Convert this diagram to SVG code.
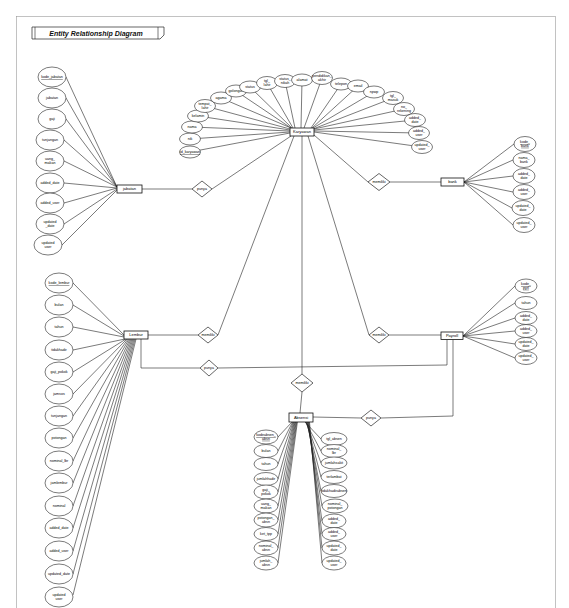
<svg xmlns="http://www.w3.org/2000/svg" width="569" height="608" viewBox="0 0 569 608" font-family="Liberation Sans, Arial, sans-serif">
<style>
.l{stroke:#222;stroke-width:0.6;fill:none}
.a{fill:#fff;stroke:#222;stroke-width:0.6}
.e{fill:#fff;stroke:#111;stroke-width:0.8}
.r{fill:#fff;stroke:#222;stroke-width:0.7}
.t{font-family:'Liberation Sans',Arial,sans-serif;font-size:3.6px;text-anchor:middle;fill:#000}
.tb{font-family:'Liberation Sans',Arial,sans-serif;font-size:4px;text-anchor:middle;fill:#000}
.u{text-decoration:underline}
</style>
<rect x="0" y="0" width="569" height="608" fill="#fff"/>
<rect x="16.5" y="16.5" width="539" height="600" fill="none" stroke="#999" stroke-width="0.6"/>
<g id="title">
<polygon points="32,27 164,27 164,35 160,39 32,39" fill="#fff" stroke="#222" stroke-width="0.7"/>
<line x1="35" y1="27" x2="35" y2="39" stroke="#222" stroke-width="0.6"/>
<line x1="158" y1="27" x2="158" y2="39" stroke="#222" stroke-width="0.6"/>
<text x="96" y="35.5" font-family="Liberation Sans,Arial,sans-serif" font-size="7" font-weight="bold" font-style="italic" text-anchor="middle" fill="#111">Entity Relationship Diagram</text>
</g>
<g id="connectors">
<line class="l" x1="290" y1="133" x2="190" y2="152"/>
<line class="l" x1="290" y1="132" x2="190" y2="139"/>
<line class="l" x1="290" y1="131" x2="192" y2="127"/>
<line class="l" x1="290" y1="130" x2="198" y2="116"/>
<line class="l" x1="290" y1="129" x2="205" y2="106"/>
<line class="l" x1="291" y1="128" x2="221" y2="98"/>
<line class="l" x1="291" y1="128" x2="236" y2="91"/>
<line class="l" x1="292" y1="128" x2="250" y2="87"/>
<line class="l" x1="293" y1="128" x2="267" y2="83"/>
<line class="l" x1="295" y1="128" x2="285" y2="81"/>
<line class="l" x1="301" y1="128" x2="302" y2="80"/>
<line class="l" x1="304" y1="128" x2="322" y2="78"/>
<line class="l" x1="311" y1="128" x2="341" y2="84"/>
<line class="l" x1="312" y1="128" x2="358" y2="86"/>
<line class="l" x1="313" y1="128" x2="374" y2="92"/>
<line class="l" x1="313" y1="129" x2="393" y2="98"/>
<line class="l" x1="314" y1="129" x2="404" y2="109"/>
<line class="l" x1="314" y1="130" x2="415" y2="120"/>
<line class="l" x1="314" y1="131" x2="419" y2="133"/>
<line class="l" x1="314" y1="132" x2="422" y2="147"/>
<line class="l" x1="117" y1="187" x2="66" y2="77"/>
<line class="l" x1="117" y1="187" x2="66" y2="98"/>
<line class="l" x1="117" y1="187" x2="66" y2="119"/>
<line class="l" x1="117" y1="187" x2="64" y2="140"/>
<line class="l" x1="117" y1="187" x2="64" y2="161"/>
<line class="l" x1="117" y1="188" x2="64" y2="183"/>
<line class="l" x1="117" y1="188" x2="64" y2="203"/>
<line class="l" x1="117" y1="189" x2="64" y2="224"/>
<line class="l" x1="117" y1="190" x2="62" y2="245"/>
<line class="l" x1="464" y1="182" x2="514" y2="144"/>
<line class="l" x1="464" y1="182" x2="513" y2="160"/>
<line class="l" x1="464" y1="182" x2="513" y2="176"/>
<line class="l" x1="464" y1="182" x2="513" y2="192"/>
<line class="l" x1="464" y1="182" x2="512" y2="208"/>
<line class="l" x1="464" y1="182" x2="513" y2="225"/>
<line class="l" x1="124" y1="335" x2="73" y2="283"/>
<line class="l" x1="124" y1="336" x2="73" y2="305"/>
<line class="l" x1="124" y1="337" x2="73" y2="327"/>
<line class="l" x1="125" y1="339" x2="73" y2="350"/>
<line class="l" x1="126" y1="339" x2="73" y2="372"/>
<line class="l" x1="127" y1="339" x2="73" y2="394"/>
<line class="l" x1="128" y1="339" x2="73" y2="416"/>
<line class="l" x1="129" y1="339" x2="73" y2="438"/>
<line class="l" x1="130" y1="339" x2="73" y2="461"/>
<line class="l" x1="131" y1="339" x2="73" y2="483"/>
<line class="l" x1="132" y1="339" x2="73" y2="506"/>
<line class="l" x1="133" y1="339" x2="73" y2="528"/>
<line class="l" x1="134" y1="339" x2="73" y2="551"/>
<line class="l" x1="135" y1="339" x2="73" y2="574"/>
<line class="l" x1="136" y1="339" x2="73" y2="595"/>
<line class="l" x1="463" y1="336" x2="515" y2="286"/>
<line class="l" x1="463" y1="336" x2="515" y2="303"/>
<line class="l" x1="463" y1="336" x2="515" y2="318"/>
<line class="l" x1="463" y1="336" x2="515" y2="331"/>
<line class="l" x1="463" y1="336" x2="515" y2="344"/>
<line class="l" x1="463" y1="336" x2="515" y2="358"/>
<line class="l" x1="292" y1="422" x2="278" y2="437"/>
<line class="l" x1="292.6" y1="422" x2="278" y2="451"/>
<line class="l" x1="293.2" y1="422" x2="278" y2="464"/>
<line class="l" x1="293.8" y1="422" x2="278" y2="479"/>
<line class="l" x1="294.4" y1="422" x2="278" y2="492"/>
<line class="l" x1="295" y1="422" x2="278" y2="506"/>
<line class="l" x1="295.6" y1="422" x2="278" y2="520"/>
<line class="l" x1="296.2" y1="422" x2="278" y2="534"/>
<line class="l" x1="296.8" y1="422" x2="278" y2="548"/>
<line class="l" x1="297.4" y1="422" x2="278" y2="563"/>
<line class="l" x1="305" y1="422" x2="321" y2="439"/>
<line class="l" x1="305.5" y1="422" x2="321" y2="451"/>
<line class="l" x1="306" y1="422" x2="321" y2="463"/>
<line class="l" x1="306.5" y1="422" x2="321" y2="477"/>
<line class="l" x1="307" y1="422" x2="321" y2="491"/>
<line class="l" x1="307.5" y1="422" x2="322" y2="506"/>
<line class="l" x1="308" y1="422" x2="322" y2="521"/>
<line class="l" x1="308.5" y1="422" x2="322" y2="534"/>
<line class="l" x1="309" y1="422" x2="322" y2="548"/>
<line class="l" x1="309.5" y1="422" x2="322" y2="563"/>
<line class="l" x1="142" y1="189" x2="192" y2="189"/>
<line class="l" x1="212" y1="189" x2="291" y2="136"/>
<line class="l" x1="314" y1="135" x2="368" y2="182"/>
<line class="l" x1="390" y1="182" x2="441" y2="182"/>
<line class="l" x1="148" y1="335" x2="198" y2="335"/>
<line class="l" x1="218" y1="335" x2="294" y2="136"/>
<line class="l" x1="308" y1="136" x2="369" y2="335"/>
<line class="l" x1="389" y1="335" x2="441" y2="335"/>
<line class="l" x1="302" y1="136" x2="302" y2="374"/>
<line class="l" x1="302" y1="392" x2="300" y2="413"/>
<polyline class="l" points="141,339 141,368 200,368"/>
<polyline class="l" points="218,368 447,365 447,339.5"/>
<line class="l" x1="313" y1="417" x2="361" y2="418"/>
<polyline class="l" points="381,418 453,416 453,339.5"/>
</g>
<g id="karyawan">
<rect class="e" x="290" y="128" width="24" height="8"/>
<text class="tb" x="302" y="133.4">Karyawan</text>
</g>
<g id="karyawan-attributes">
<ellipse class="a" cx="190" cy="152" rx="10.5" ry="6"/><text class="t u" x="190" y="153.2">id_karyawan</text>
<ellipse class="a" cx="190" cy="139" rx="10.5" ry="6"/><text class="t" x="190" y="140.2">nik</text>
<ellipse class="a" cx="192" cy="127" rx="10.5" ry="6"/><text class="t" x="192" y="128.2">nama</text>
<ellipse class="a" cx="198" cy="116" rx="10.5" ry="6"/><text class="t" x="198" y="117.2">kelamin</text>
<ellipse class="a" cx="205" cy="106" rx="10.5" ry="6.5"/><text class="t" x="205" y="105"><tspan x="205">tempat_</tspan><tspan x="205" dy="3.8">lahir</tspan></text>
<ellipse class="a" cx="221" cy="98" rx="10.5" ry="6"/><text class="t" x="221" y="99.2">agama</text>
<ellipse class="a" cx="236" cy="91" rx="10.5" ry="6"/><text class="t" x="236" y="92.2">golongan</text>
<ellipse class="a" cx="250" cy="87" rx="10.5" ry="6"/><text class="t" x="250" y="88.2">status</text>
<ellipse class="a" cx="267" cy="83" rx="10.5" ry="6.5"/><text class="t" x="267" y="82"><tspan x="267">tgl_</tspan><tspan x="267" dy="3.8">lahir</tspan></text>
<ellipse class="a" cx="285" cy="81" rx="10.5" ry="6.5"/><text class="t" x="285" y="80"><tspan x="285">status_</tspan><tspan x="285" dy="3.8">nikah</tspan></text>
<ellipse class="a" cx="302" cy="80" rx="10.5" ry="6"/><text class="t" x="302" y="81.2">alamat</text>
<ellipse class="a" cx="322" cy="78" rx="10.5" ry="6.5"/><text class="t" x="322" y="77"><tspan x="322">pendidikan_</tspan><tspan x="322" dy="3.8">akhir</tspan></text>
<ellipse class="a" cx="341" cy="84" rx="10.5" ry="6"/><text class="t" x="341" y="85.2">telepon</text>
<ellipse class="a" cx="358" cy="86" rx="10.5" ry="6"/><text class="t" x="358" y="87.2">email</text>
<ellipse class="a" cx="374" cy="92" rx="10.5" ry="6"/><text class="t" x="374" y="93.2">npwp</text>
<ellipse class="a" cx="393" cy="98" rx="10.5" ry="6.5"/><text class="t" x="393" y="97"><tspan x="393">tgl_</tspan><tspan x="393" dy="3.8">masuk</tspan></text>
<ellipse class="a" cx="404" cy="109" rx="10.5" ry="6.5"/><text class="t" x="404" y="108"><tspan x="404">no_</tspan><tspan x="404" dy="3.8">rekening</tspan></text>
<ellipse class="a" cx="415" cy="120" rx="10.5" ry="6.5"/><text class="t" x="415" y="119"><tspan x="415">added_</tspan><tspan x="415" dy="3.8">date</tspan></text>
<ellipse class="a" cx="419" cy="133" rx="10.5" ry="6.5"/><text class="t" x="419" y="132"><tspan x="419">added_</tspan><tspan x="419" dy="3.8">user</tspan></text>
<ellipse class="a" cx="422" cy="147" rx="10.5" ry="6.5"/><text class="t" x="422" y="146"><tspan x="422">updated_</tspan><tspan x="422" dy="3.8">user</tspan></text>
</g>
<g id="jabatan">
<rect class="e" x="117" y="185" width="25" height="8"/>
<text class="tb" x="129.5" y="190.4">jabatan</text>
</g>
<g id="jabatan-attributes">
<ellipse class="a" cx="52" cy="77" rx="14" ry="10"/><text class="t u" x="52" y="78.3">kode_jabatan</text>
<ellipse class="a" cx="52" cy="98" rx="14" ry="10"/><text class="t" x="52" y="99.3">jabatan</text>
<ellipse class="a" cx="52" cy="119" rx="14" ry="10"/><text class="t" x="52" y="120.3">gaji</text>
<ellipse class="a" cx="50" cy="140" rx="14" ry="10"/><text class="t" x="50" y="141.3">tunjangan</text>
<ellipse class="a" cx="50" cy="161" rx="14" ry="10"/><text class="t" x="50" y="160"><tspan x="50">uang_</tspan><tspan x="50" dy="4">makan</tspan></text>
<ellipse class="a" cx="50" cy="183" rx="14" ry="10"/><text class="t" x="50" y="184.3">added_date</text>
<ellipse class="a" cx="50" cy="203" rx="14" ry="10"/><text class="t" x="50" y="204.3">added_user</text>
<ellipse class="a" cx="50" cy="224" rx="14" ry="10"/><text class="t" x="50" y="223"><tspan x="50">updated</tspan><tspan x="50" dy="4">_date</tspan></text>
<ellipse class="a" cx="48" cy="245" rx="14" ry="10"/><text class="t" x="48" y="244"><tspan x="48">updated</tspan><tspan x="48" dy="4">user</tspan></text>
</g>
<g id="bank">
<rect class="e" x="441" y="178" width="23" height="8"/>
<text class="tb" x="452.5" y="183.4">bank</text>
</g>
<g id="bank-attributes">
<ellipse class="a" cx="525" cy="144" rx="11" ry="7.5"/><text class="t u" x="525" y="143"><tspan x="525">kode_</tspan><tspan x="525" dy="3.8">bank</tspan></text>
<ellipse class="a" cx="524" cy="160" rx="11" ry="7.5"/><text class="t" x="524" y="159"><tspan x="524">nama_</tspan><tspan x="524" dy="3.8">bank</tspan></text>
<ellipse class="a" cx="524" cy="176" rx="11" ry="7.5"/><text class="t" x="524" y="175"><tspan x="524">added_</tspan><tspan x="524" dy="3.8">date</tspan></text>
<ellipse class="a" cx="524" cy="192" rx="11" ry="7.5"/><text class="t" x="524" y="191"><tspan x="524">added_</tspan><tspan x="524" dy="3.8">user</tspan></text>
<ellipse class="a" cx="523" cy="208" rx="11" ry="7.5"/><text class="t" x="523" y="207"><tspan x="523">updated_</tspan><tspan x="523" dy="3.8">date</tspan></text>
<ellipse class="a" cx="524" cy="225" rx="11" ry="7.5"/><text class="t" x="524" y="224"><tspan x="524">updated_</tspan><tspan x="524" dy="3.8">user</tspan></text>
</g>
<g id="lembur">
<rect class="e" x="124" y="331" width="24" height="8"/>
<text class="tb" x="136" y="336.4">Lembur</text>
</g>
<g id="lembur-attributes">
<ellipse class="a" cx="59" cy="283" rx="14" ry="10"/><text class="t u" x="59" y="284.3">kode_lembur</text>
<ellipse class="a" cx="59" cy="305" rx="14" ry="10"/><text class="t" x="59" y="306.3">bulan</text>
<ellipse class="a" cx="59" cy="327" rx="14" ry="10"/><text class="t" x="59" y="328.3">tahun</text>
<ellipse class="a" cx="59" cy="350" rx="14" ry="10"/><text class="t" x="59" y="351.3">tidakhadir</text>
<ellipse class="a" cx="59" cy="372" rx="14" ry="10"/><text class="t" x="59" y="373.3">gaji_pokok</text>
<ellipse class="a" cx="59" cy="394" rx="14" ry="10"/><text class="t" x="59" y="395.3">jamsos</text>
<ellipse class="a" cx="59" cy="416" rx="14" ry="10"/><text class="t" x="59" y="417.3">tunjangan</text>
<ellipse class="a" cx="59" cy="438" rx="14" ry="10"/><text class="t" x="59" y="439.3">potongan</text>
<ellipse class="a" cx="59" cy="461" rx="14" ry="10"/><text class="t" x="59" y="462.3">nominal_lbr</text>
<ellipse class="a" cx="59" cy="483" rx="14" ry="10"/><text class="t" x="59" y="484.3">jamlembur</text>
<ellipse class="a" cx="59" cy="506" rx="14" ry="10"/><text class="t" x="59" y="507.3">nominal</text>
<ellipse class="a" cx="59" cy="528" rx="14" ry="10"/><text class="t" x="59" y="529.3">added_date</text>
<ellipse class="a" cx="59" cy="551" rx="14" ry="10"/><text class="t" x="59" y="552.3">added_user</text>
<ellipse class="a" cx="59" cy="574" rx="14" ry="10"/><text class="t" x="59" y="575.3">updated_date</text>
<ellipse class="a" cx="59" cy="597" rx="14" ry="10"/><text class="t" x="59" y="596"><tspan x="59">updated</tspan><tspan x="59" dy="4">user</tspan></text>
</g>
<g id="payroll">
<rect class="e" x="441" y="332" width="22" height="7.5"/>
<text class="tb" x="452" y="337.2">Payroll</text>
</g>
<g id="payroll-attributes">
<ellipse class="a" cx="526" cy="286" rx="11" ry="7"/><text class="t u" x="526" y="285"><tspan x="526">kode_</tspan><tspan x="526" dy="3.8">pyrl</tspan></text>
<ellipse class="a" cx="526" cy="303" rx="11" ry="6.5"/><text class="t" x="526" y="304.2">tahun</text>
<ellipse class="a" cx="526" cy="318" rx="11" ry="6.5"/><text class="t" x="526" y="317"><tspan x="526">added_</tspan><tspan x="526" dy="3.8">date</tspan></text>
<ellipse class="a" cx="526" cy="331" rx="11" ry="6.5"/><text class="t" x="526" y="330"><tspan x="526">added_</tspan><tspan x="526" dy="3.8">user</tspan></text>
<ellipse class="a" cx="526" cy="344" rx="11" ry="6.5"/><text class="t" x="526" y="343"><tspan x="526">updated_</tspan><tspan x="526" dy="3.8">date</tspan></text>
<ellipse class="a" cx="526" cy="358" rx="11" ry="6.5"/><text class="t" x="526" y="357"><tspan x="526">updated_</tspan><tspan x="526" dy="3.8">user</tspan></text>
</g>
<g id="absensi">
<rect class="e" x="289" y="413" width="24" height="9"/>
<text class="tb" x="301" y="418.9">Absensi</text>
</g>
<g id="absensi-attributes">
<ellipse class="a" cx="266" cy="437" rx="12" ry="7"/><text class="t u" x="266" y="436"><tspan x="266">kodeabsen_</tspan><tspan x="266" dy="3.8">absn</tspan></text>
<ellipse class="a" cx="266" cy="451" rx="12" ry="6.5"/><text class="t" x="266" y="452.2">bulan</text>
<ellipse class="a" cx="266" cy="464" rx="12" ry="6.5"/><text class="t" x="266" y="465.2">tahun</text>
<ellipse class="a" cx="266" cy="479" rx="12" ry="6.5"/><text class="t" x="266" y="480.2">jumlahhadir</text>
<ellipse class="a" cx="266" cy="492" rx="12" ry="7"/><text class="t" x="266" y="491"><tspan x="266">gaji_</tspan><tspan x="266" dy="3.8">pokok</tspan></text>
<ellipse class="a" cx="266" cy="506" rx="12" ry="7"/><text class="t" x="266" y="505"><tspan x="266">uang_</tspan><tspan x="266" dy="3.8">makan</tspan></text>
<ellipse class="a" cx="266" cy="520" rx="12" ry="7"/><text class="t" x="266" y="519"><tspan x="266">potongan_</tspan><tspan x="266" dy="3.8">absn</tspan></text>
<ellipse class="a" cx="266" cy="534" rx="12" ry="6.5"/><text class="t" x="266" y="535.2">ket_tpp</text>
<ellipse class="a" cx="266" cy="548" rx="12" ry="7"/><text class="t" x="266" y="547"><tspan x="266">nominal_</tspan><tspan x="266" dy="3.8">absn</tspan></text>
<ellipse class="a" cx="266" cy="563" rx="12" ry="7"/><text class="t" x="266" y="562"><tspan x="266">jumlah_</tspan><tspan x="266" dy="3.8">absn</tspan></text>
<ellipse class="a" cx="334" cy="439" rx="13" ry="6.5"/><text class="t" x="334" y="440.2">tgl_absen</text>
<ellipse class="a" cx="334" cy="451" rx="13" ry="6.5"/><text class="t" x="334" y="450"><tspan x="334">nominal_</tspan><tspan x="334" dy="3.8">lbr</tspan></text>
<ellipse class="a" cx="334" cy="463" rx="13" ry="6"/><text class="t" x="334" y="464.2">jumlahsakit</text>
<ellipse class="a" cx="334" cy="477" rx="13" ry="6.5"/><text class="t" x="334" y="478.2">terlambat</text>
<ellipse class="a" cx="334" cy="491" rx="13" ry="6.5"/><text class="t" x="334" y="492.2">tidakhadirabsen</text>
<ellipse class="a" cx="335" cy="506" rx="13" ry="7"/><text class="t" x="335" y="505"><tspan x="335">nominal_</tspan><tspan x="335" dy="3.8">potongan</tspan></text>
<ellipse class="a" cx="334" cy="521" rx="12" ry="7"/><text class="t" x="334" y="520"><tspan x="334">added_</tspan><tspan x="334" dy="3.8">date</tspan></text>
<ellipse class="a" cx="334" cy="534" rx="12" ry="6.5"/><text class="t" x="334" y="533"><tspan x="334">added_</tspan><tspan x="334" dy="3.8">user</tspan></text>
<ellipse class="a" cx="334" cy="548" rx="12" ry="7"/><text class="t" x="334" y="547"><tspan x="334">updated_</tspan><tspan x="334" dy="3.8">date</tspan></text>
<ellipse class="a" cx="334" cy="563" rx="12" ry="7"/><text class="t" x="334" y="562"><tspan x="334">updated_</tspan><tspan x="334" dy="3.8">user</tspan></text>
</g>
<g id="rel-jabatan-karyawan">
<polygon class="r" points="192,189 202,181 212,189 202,197"/><text class="t" x="202" y="190.2">punya</text>
</g>
<g id="rel-karyawan-bank">
<polygon class="r" points="368,182 379,173.5 390,182 379,190.5"/><text class="t" x="379" y="183.2">memiliki</text>
</g>
<g id="rel-lembur-karyawan">
<polygon class="r" points="198,335 208,327 218,335 208,343"/><text class="t" x="208" y="336.2">memiliki</text>
</g>
<g id="rel-karyawan-payroll">
<polygon class="r" points="369,335 379,327 389,335 379,343"/><text class="t" x="379" y="336.2">memiliki</text>
</g>
<g id="rel-lembur-payroll">
<polygon class="r" points="200,368 209,360 218,368 209,376"/><text class="t" x="209" y="369.2">punya</text>
</g>
<g id="rel-karyawan-absensi">
<polygon class="r" points="291,383 302,374 313,383 302,392"/><text class="t" x="302" y="384.2">memiliki</text>
</g>
<g id="rel-absensi-payroll">
<polygon class="r" points="361,418 371,410 381,418 371,426"/><text class="t" x="371" y="419.2">punya</text>
</g>
</svg>
